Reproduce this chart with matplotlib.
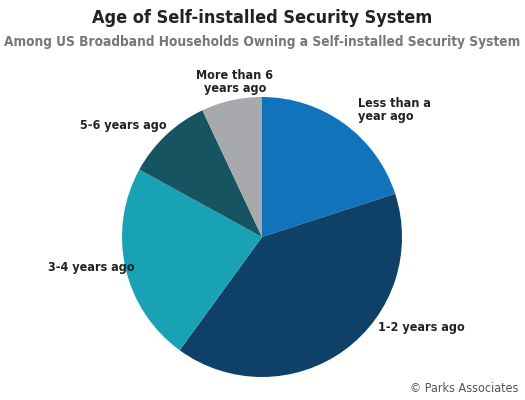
import matplotlib.pyplot as plt

categories = ["Less than a\nyear ago", "1-2 years ago", "3-4 years ago", "5-6 years ago", "More than 6\nyears ago"]
shares = [20, 40, 23, 10, 7]
colors = ["#1273bd", "#0f4168", "#18a2b3", "#175462", "#a7a9ac"]

plt.rcParams['font.family'] = ['DejaVu Sans']
plt.rcParams['font.stretch'] = 'condensed'

W, H = 525, 400
fig = plt.figure(figsize=(W / 100, H / 100), dpi=100)
cx, cy, r = 262, 237, 140
ax = fig.add_axes([(cx - r) / W, (H - cy - r) / H, 2 * r / W, 2 * r / H])
ax.pie(shares, colors=colors, startangle=90, counterclock=False,
       wedgeprops=dict(linewidth=0))
ax.set_xlim(-1, 1)
ax.set_ylim(-1, 1)
ax.set_aspect('equal')

# label positions in pixels (x, y from top, horizontal alignment)
label_pos = [(358, 110, 'left'), (378, 327, 'left'), (48, 268, 'left'),
             (80, 125, 'left'), (235, 82, 'center')]
for lab, (x, y, ha) in zip(categories, label_pos):
    fig.text(x / W, 1 - y / H, lab, ha=ha, va='center', fontsize=9,
             fontweight='bold', color='#222222', linespacing=1.0)

fig.text(0.5, 1 - 18 / H, "Age of Self-installed Security System", ha='center', va='center',
         fontsize=13, fontweight='bold', color='#222222')
fig.text(0.5, 1 - 42 / H, "Among US Broadband Households Owning a Self-installed Security System",
         ha='center', va='center', fontsize=9.8, fontweight='bold', color='#777777')
fig.text(518 / W, 1 - 388 / H, "© Parks Associates", ha='right', va='center',
         fontsize=9, color='#555555')

fig.savefig("out.png", dpi=100)
